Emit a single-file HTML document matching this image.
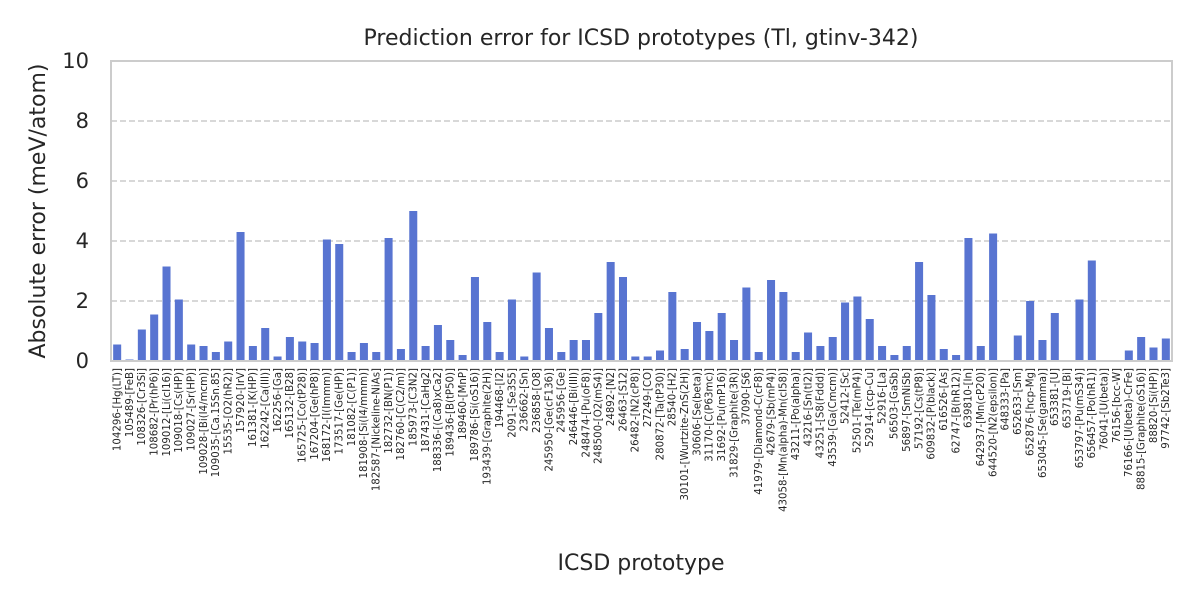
<!DOCTYPE html>
<html><head><meta charset="utf-8"><style>
body{margin:0;background:#fff;font-family:"Liberation Sans","DejaVu Sans",sans-serif;}
svg text{font-family:"DejaVu Sans","Liberation Sans",sans-serif;fill:#262626;}
</style></head><body>
<svg id="chart" width="1200" height="600" xmlns="http://www.w3.org/2000/svg">
<text x="641" y="45" font-size="22" text-anchor="middle">Prediction error for ICSD prototypes (Tl, gtinv-342)</text>
<text transform="translate(45,211) rotate(-90)" font-size="22" text-anchor="middle">Absolute error (meV/atom)</text>
<text x="641" y="570" font-size="22" text-anchor="middle">ICSD prototype</text>
<g id="grid"></g><g id="bars"></g><g id="xt"></g><g id="yt"></g>
<rect x="111" y="61" width="1061" height="300" fill="none" stroke="#cccccc" stroke-width="2"/>
</svg>
<script>
const categories=["104296-[Hg(LT)]","105489-[FeB]","108326-[Cr3Si]","108682-[Pr(hP6)]","109012-[Li(cI16)]","109018-[Cs(HP)]","109027-[Sr(HP)]","109028-[Bi(I4/mcm)]","109035-[Ca.15Sn.85]","15535-[O2(hR2)]","157920-[IrV]","161381-[K(HP)]","162242-[Ca(III)]","162256-[Ga]","165132-[B28]","165725-[Co(tP28)]","167204-[Ge(hP8)]","168172-[I(Immm)]","173517-[Ge(HP)]","181082-[C(P1)]","181908-[Si(I4/mmm)]","182587-[Nickeline-NiAs]","182732-[BN(P1)]","182760-[C(C2/m)]","185973-[C3N2]","187431-[CaHg2]","188336-[(Ca8)xCa2]","189436-[B(tP50)]","189460-[MnP]","189786-[Si(oS16)]","193439-[Graphite(2H)]","194468-[I2]","2091-[Se3S5]","236662-[Sn]","236858-[O8]","245950-[Ge(cF136)]","245956-[Ge]","246446-[Bi(III)]","248474-[Pu(oF8)]","248500-[O2(mS4)]","24892-[N2]","26463-[S12]","26482-[N2(cP8)]","27249-[CO]","280872-[Ta(tP30)]","28540-[H2]","30101-[Wurtzite-ZnS(2H)]","30606-[Se(beta)]","31170-[C(P63mc)]","31692-[Pu(mP16)]","31829-[Graphite(3R)]","37090-[S6]","41979-[Diamond-C(cF8)]","42679-[Sb(mP4)]","43058-[Mn(alpha)-Mn(cI58)]","43211-[Po(alpha)]","43216-[Sn(tI2)]","43251-[S8(Fddd)]","43539-[Ga(Cmcm)]","52412-[Sc]","52501-[Te(mP4)]","52914-[ccp-Cu]","52916-[La]","56503-[GaSb]","56897-[SmNiSb]","57192-[Cs(tP8)]","609832-[P(black)]","616526-[As]","62747-[B(hR12)]","639810-[In]","642937-[Mn(cP20)]","644520-[N2(epsilon)]","648333-[Pa]","652633-[Sm]","652876-[hcp-Mg]","653045-[Se(gamma)]","653381-[U]","653719-[Bi]","653797-[Pu(mS34)]","656457-[Po(hR1)]","76041-[U(beta)]","76156-[bcc-W]","76166-[U(beta)-CrFe]","88815-[Graphite(oS16)]","88820-[Si(HP)]","97742-[Sb2Te3]"];
const errors=[0.55,0.05,1.05,1.55,3.15,2.05,0.55,0.5,0.3,0.65,4.3,0.5,1.1,0.15,0.8,0.65,0.6,4.05,3.9,0.3,0.6,0.3,4.1,0.4,5.0,0.5,1.2,0.7,0.2,2.8,1.3,0.3,2.05,0.15,2.95,1.1,0.3,0.7,0.7,1.6,3.3,2.8,0.15,0.15,0.35,2.3,0.4,1.3,1.0,1.6,0.7,2.45,0.3,2.7,2.3,0.3,0.95,0.5,0.8,1.95,2.15,1.4,0.5,0.2,0.5,3.3,2.2,0.4,0.2,4.1,0.5,4.25,0,0.85,2.0,0.7,1.6,0,2.05,3.35,0,0,0.35,0.8,0.45,0.75];
const yTicks=[0,2,4,6,8,10];
const NS="http://www.w3.org/2000/svg";
const L=111,R=1172,T=61,B=361,yMax=10;
const band=(R-L)/categories.length;
const xC=i=>L+band*(i+0.5);
const yS=v=>B-(v/yMax)*(B-T);
function mk(tag,attrs,parent){const e=document.createElementNS(NS,tag);for(const k in attrs)e.setAttribute(k,attrs[k]);document.getElementById(parent).appendChild(e);return e;}
yTicks.forEach(t=>{
  if(t>0&&t<yMax){const g=mk('line',{x1:L,x2:R,y1:yS(t),y2:yS(t),stroke:'#cccccc','stroke-width':1.5,'stroke-dasharray':'6,3'},'grid');
  
  }
  const tx=mk('text',{x:L-22,y:yS(t)+7,'font-size':'21','text-anchor':'end'},'yt');
  tx.textContent=t;
  
  
});
categories.forEach((c,i)=>{
  const bw=band*0.65;
  const r=mk('rect',{x:xC(i)-bw/2,y:yS(errors[i]),width:bw,height:B-yS(errors[i]),fill:'#5874d1'},'bars');
  
  
  const t=mk('text',{transform:`translate(${xC(i)+3.3},368) rotate(-90)`,'font-size':'10.2','text-anchor':'end'},'xt');
  t.textContent=c;
  
  
});
</script>
</body></html>
